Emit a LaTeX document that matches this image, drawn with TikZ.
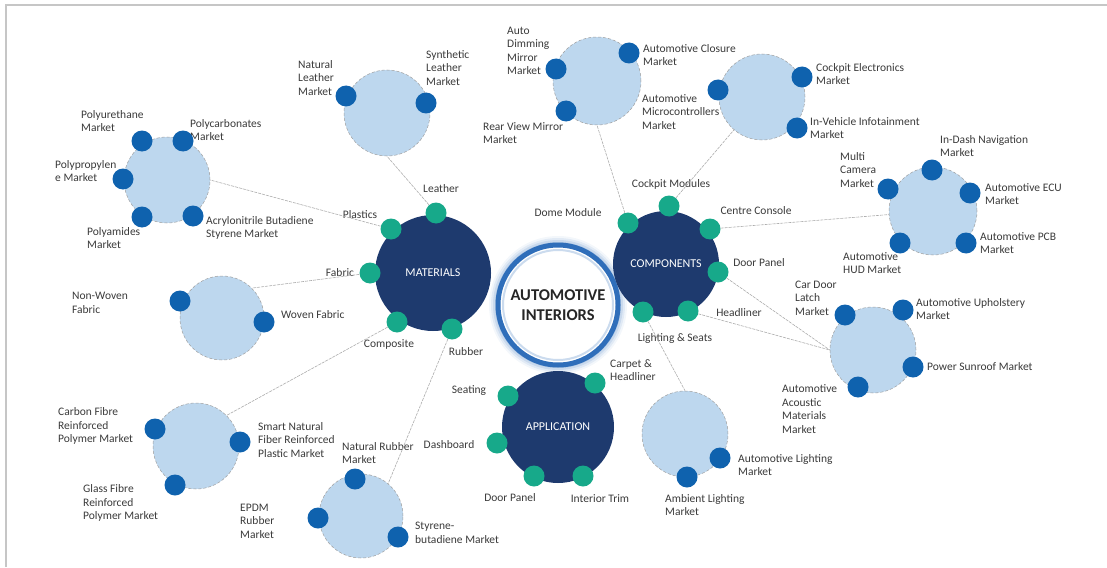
\documentclass[tikz,border=0pt]{standalone}
\usepackage{fontspec}
\setmainfont{Carlito}
\definecolor{hubnavy}{HTML}{1E3A6E}
\definecolor{tipgreen}{HTML}{17A98A}
\definecolor{satfill}{HTML}{BDD7EE}
\definecolor{satdot}{HTML}{0F62AE}
\definecolor{ringblue}{HTML}{2F6EBA}
\definecolor{labelgray}{HTML}{3A3A3A}
\begin{document}
\begin{tikzpicture}[x=1pt,y=-1pt,
  hub/.style={circle,fill=hubnavy,text=white,inner sep=0,font=\fontsize{12}{14}\selectfont},
  tip/.style={circle,fill=tipgreen,minimum size=21pt,inner sep=0},
  sat/.style={circle,draw=gray!75,densely dashed,line width=0.5pt,fill=satfill,minimum size=86pt,inner sep=0},
  mkt/.style={circle,fill=satdot,minimum size=21pt,inner sep=0},
  lbl/.style={text=labelgray,font=\fontsize{11.5}{13.5}\selectfont,align=left,inner sep=0},
  link/.style={draw=gray!65,line width=0.6pt,dash pattern=on 3pt off 1pt}]
\useasboundingbox (0,0) rectangle (1107,567);
\draw [gray!45,line width=2pt] (6,567) -- (6,5) -- (1107,5);

% centre ring with its glow
\coordinate (aiC) at (558,305);
\foreach \r/\o in {69/.10,67/.18,65/.28,63/.4} \fill [ringblue!55,opacity=\o] (aiC) circle [radius=\r pt];
\node (ai) [circle,draw=ringblue,line width=5pt,fill=white,minimum size=120pt,inner sep=0,
  font=\fontsize{16.5}{20}\selectfont\bfseries,text=black!85,align=center] at (aiC) {AUTOMOTIVE\\INTERIORS};
\draw [ringblue!25,line width=2pt] (aiC) circle [radius=55pt];

\node (mat) [hub,minimum size=116pt] at (433,273) {MATERIALS};
\node (comp) [hub,minimum size=106pt] at (666,264) {COMPONENTS};
\node (app) [hub,minimum size=112pt] at (558,427) {APPLICATION};

% materials
\node (leatherL) [lbl] at (441,189) {Leather};
\node (plasticsL) [lbl] at (360,215) {Plastics};
\node (fabricL) [lbl] at (340,273) {Fabric};
\node (compositeL) [lbl] at (389,344) {Composite};
\node (rubberL) [lbl] at (466,352) {Rubber};
\node (leather) [tip] at (436,213) {};
\node (plastics) [tip] at (391,229) {};
\node (fabric) [tip] at (370,273) {};
\node (composite) [tip] at (397,322) {};
\node (rubber) [tip] at (452,329) {};

% components
\node (cockpitL) [lbl] at (671,184) {Cockpit Modules};
\node (domeL) [lbl] at (568,213) {Dome Module};
\node (centreL) [lbl] at (756,211) {Centre Console};
\node (doorCL) [lbl] at (759,263) {Door Panel};
\node (headlinerL) [lbl] at (739,313) {Headliner};
\node (lightingL) [lbl] at (675,338) {Lighting \& Seats};
\node (cockpit) [tip] at (669,206) {};
\node (dome) [tip] at (628,223) {};
\node (centre) [tip] at (710,229) {};
\node (doorC) [tip] at (718,272) {};
\node (headliner) [tip] at (688,311) {};
\node (lighting) [tip] at (643,312) {};

% application
\node (carpetL) [lbl,anchor=west] at (610,370) {Carpet \&\\Headliner};
\node (seatingL) [lbl] at (469,391) {Seating};
\node (dashL) [lbl] at (449,445) {Dashboard};
\node (doorAL) [lbl] at (510,498) {Door Panel};
\node (trimL) [lbl] at (600,499) {Interior Trim};
\node (carpet) [tip] at (595,383) {};
\node (seating) [tip] at (508,396) {};
\node (dash) [tip] at (497,443) {};
\node (doorA) [tip] at (534,476) {};
\node (trim) [tip] at (583,476) {};

% plastics markets
\node (plasticSat) [sat] at (167,180) {};
\node (puL) [lbl,anchor=west] at (81,121) {Polyurethane\\Market};
\node (pcL) [lbl,anchor=west] at (190,130) {Polycarbonates\\Market};
\node (ppL) [lbl,anchor=west] at (55,171) {Polypropylen\\e Market};
\node (paL) [lbl,anchor=west] at (87,238) {Polyamides\\Market};
\node (absL) [lbl,anchor=west] at (206,228) {Acrylonitrile Butadiene\\Styrene Market};
\node (pu) [mkt] at (142,141) {};
\node (pc) [mkt] at (183,141) {};
\node (pp) [mkt] at (123,179) {};
\node (pa) [mkt] at (142,217) {};
\node (abs) [mkt] at (193,216) {};

% leather markets
\node (leatherSat) [sat] at (387,113) {};
\node (natLeatherL) [lbl,anchor=west] at (298,78) {Natural\\Leather\\Market};
\node (synLeatherL) [lbl,anchor=west] at (426,68) {Synthetic\\Leather\\Market};
\node (natLeather) [mkt] at (346,96) {};
\node (synLeather) [mkt] at (426,103) {};

% fabric markets
\node (fabricSat) [sat,minimum size=84pt] at (222,318) {};
\node (nonWovenL) [lbl,anchor=west] at (72,303) {Non-Woven\\Fabric};
\node (wovenL) [lbl,anchor=west] at (281,315) {Woven Fabric};
\node (nonWoven) [mkt] at (180,301) {};
\node (woven) [mkt] at (264,322) {};

% composite markets
\node (compSat) [sat] at (196,446) {};
\node (carbonL) [lbl,anchor=west] at (58,426) {Carbon Fibre\\Reinforced\\Polymer Market};
\node (smartL) [lbl,anchor=west] at (258,440) {Smart Natural\\Fiber Reinforced\\Plastic Market};
\node (glassL) [lbl,anchor=west] at (83,503) {Glass Fibre\\Reinforced\\Polymer Market};
\node (carbon) [mkt] at (155,429) {};
\node (smart) [mkt] at (240,442) {};
\node (glass) [mkt] at (175,485) {};

% rubber markets
\node (rubberSat) [sat,minimum size=84pt] at (361,516) {};
\node (natRubberL) [lbl,anchor=west] at (342,453) {Natural Rubber\\Market};
\node (epdmL) [lbl,anchor=west] at (240,521) {EPDM\\Rubber\\Market};
\node (sbrL) [lbl,anchor=west] at (415,533) {Styrene-\\butadiene Market};
\node (natRubber) [mkt] at (355,479) {};
\node (epdm) [mkt] at (318,518) {};
\node (sbr) [mkt] at (398,537) {};

% dome module markets
\node (domeSat) [sat,minimum size=88pt] at (597,81) {};
\node (dimmingL) [lbl,anchor=west] at (507,51) {Auto\\Dimming\\Mirror\\Market};
\node (closureL) [lbl,anchor=west] at (643,55) {Automotive Closure\\Market};
\node (rearViewL) [lbl,anchor=west] at (483,133) {Rear View Mirror\\Market};
\node (dimming) [mkt] at (556,69) {};
\node (closure) [mkt] at (629,53) {};
\node (rearView) [mkt] at (566,111) {};

% cockpit markets
\node (cockpitSat) [sat] at (762,97) {};
\node (microL) [lbl,anchor=west] at (642,112) {Automotive\\Microcontrollers\\Market};
\node (electronicsL) [lbl,anchor=west] at (816,74) {Cockpit Electronics\\Market};
\node (infotainL) [lbl,anchor=west] at (810,128) {In-Vehicle Infotainment\\Market};
\node (micro) [mkt] at (718,90) {};
\node (electronics) [mkt] at (802,77) {};
\node (infotain) [mkt] at (797,128) {};

% centre console markets
\node (consoleSat) [sat,minimum size=88pt] at (933,211) {};
\node (navL) [lbl,anchor=west] at (940,146) {In-Dash Navigation\\Market};
\node (cameraL) [lbl,anchor=west] at (840,170) {Multi\\Camera\\Market};
\node (ecuL) [lbl,anchor=west] at (985,194) {Automotive ECU\\Market};
\node (pcbL) [lbl,anchor=west] at (980,243) {Automotive PCB\\Market};
\node (hudL) [lbl,anchor=west] at (843,263) {Automotive\\HUD Market};
\node (nav) [mkt] at (932,170) {};
\node (camera) [mkt] at (888,189) {};
\node (ecu) [mkt] at (970,193) {};
\node (hud) [mkt] at (900,243) {};
\node (pcb) [mkt] at (966,243) {};

% door panel / headliner markets
\node (bodySat) [sat] at (873,350) {};
\node (latchL) [lbl,anchor=west] at (795,298) {Car Door\\Latch\\Market};
\node (upholsteryL) [lbl,anchor=west] at (916,309) {Automotive Upholstery\\Market};
\node (sunroofL) [lbl,anchor=west] at (927,367) {Power Sunroof Market};
\node (acousticL) [lbl,anchor=west] at (782,409) {Automotive\\Acoustic\\Materials\\Market};
\node (latch) [mkt] at (845,315) {};
\node (upholstery) [mkt] at (903,310) {};
\node (sunroof) [mkt] at (913,367) {};
\node (acoustic) [mkt] at (858,387) {};

% lighting markets
\node (lightSat) [sat] at (685,434) {};
\node (autoLightL) [lbl,anchor=west] at (738,465) {Automotive Lighting\\Market};
\node (ambientL) [lbl,anchor=west] at (665,505) {Ambient Lighting\\Market};
\node (autoLight) [mkt] at (720,458) {};
\node (ambient) [mkt] at (687,477) {};

\draw [link] (plastics) -- (plasticSat.east);
\draw [link] (leather) -- (leatherSat.south);
\draw [link] (fabric) -- (fabricSat.45);
\draw [link] (composite) -- (compSat.45);
\draw [link] (rubber) -- (rubberSat.50);
\draw [link] (dome) -- (domeSat.south);
\draw [link] (cockpit) -- (cockpitSat);
\draw [link] (centre) -- (consoleSat);
\draw [link] (doorC) -- (bodySat.west);
\draw [link] (headliner) -- (bodySat.west);
\draw [link] (lighting) -- (lightSat.north);
\end{tikzpicture}
\end{document}
